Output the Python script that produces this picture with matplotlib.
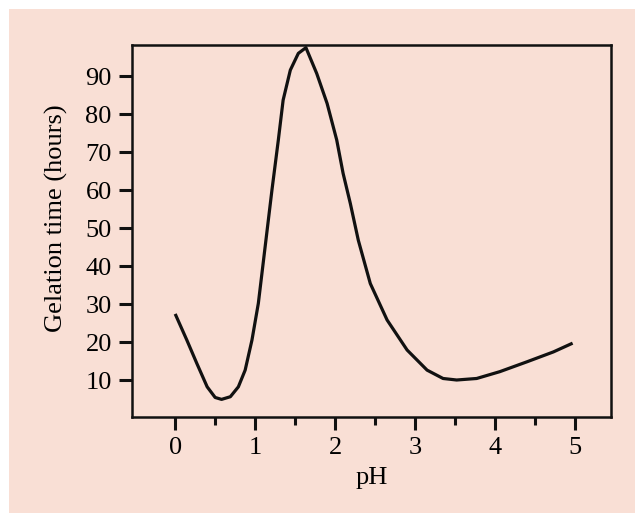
import numpy as np
import matplotlib
matplotlib.use('Agg')
import matplotlib.pyplot as plt
from matplotlib.patches import Rectangle
from matplotlib.ticker import FixedLocator

# values
ph = [0.0, 0.146, 0.27, 0.40, 0.50, 0.58, 0.69, 0.79, 0.875, 0.96, 1.04, 1.125,
      1.21, 1.29, 1.35, 1.44, 1.54, 1.635, 1.77, 1.90, 2.02, 2.10, 2.19, 2.29,
      2.44, 2.65, 2.90, 3.15, 3.35, 3.52, 3.77, 4.06, 4.40, 4.73, 4.97]
gel_time = [27.4, 20.5, 14.4, 8.2, 5.4, 4.9, 5.6, 8.2, 12.6, 20.5, 30.2, 45.1,
            60.0, 73.2, 83.7, 91.6, 96.0, 97.5, 90.7, 82.8, 73.2, 64.4, 56.5, 46.8,
            35.4, 25.8, 17.9, 12.6, 10.4, 10.0, 10.4, 12.2, 14.8, 17.4, 19.7]
x_ticks = [0, 1, 2, 3, 4, 5]
x_minor = [0.5, 1.5, 2.5, 3.5, 4.5]
y_ticks = [10, 20, 30, 40, 50, 60, 70, 80, 90]

bg = '#f9dfd5'
plt.rcParams['font.family'] = ['Liberation Serif', 'DejaVu Serif']

fig = plt.figure(figsize=(6.35, 5.13), dpi=100)
fig.patch.set_facecolor('white')
fig.patches.append(Rectangle((9 / 635, 0), 1, 1 - 9 / 513, transform=fig.transFigure,
                             facecolor=bg, edgecolor='none', zorder=-5))

ax = fig.add_axes([132 / 635, 1 - 417 / 513, 479 / 635, 372 / 513])
ax.set_facecolor(bg)
ax.plot(ph, gel_time, color='#111111', linewidth=2.3,
        solid_joinstyle='round', solid_capstyle='butt')

ax.set_xlim(-0.54, 5.45)
ax.set_ylim(0.26, 98.2)
ax.set_xticks(x_ticks)
ax.set_yticks(y_ticks)
ax.xaxis.set_minor_locator(FixedLocator(x_minor))
ax.tick_params(axis='both', which='major', direction='out', length=9.5, width=2.2,
               labelsize=19, color='#111111')
ax.tick_params(axis='x', which='major', pad=5)
ax.tick_params(axis='y', which='major', pad=5)
ax.tick_params(axis='x', which='minor', direction='out', length=6, width=2.2, color='#111111')
for s in ax.spines.values():
    s.set_linewidth(1.8)
    s.set_color('#111111')

ax.set_xlabel('pH', fontsize=19)
ax.set_ylabel('Gelation time (hours)', fontsize=19)
ax.xaxis.set_label_coords(0.5, -0.135)
ax.yaxis.set_label_coords(-0.134, 0.535)

fig.savefig('out.png', dpi=100, facecolor=fig.get_facecolor())
